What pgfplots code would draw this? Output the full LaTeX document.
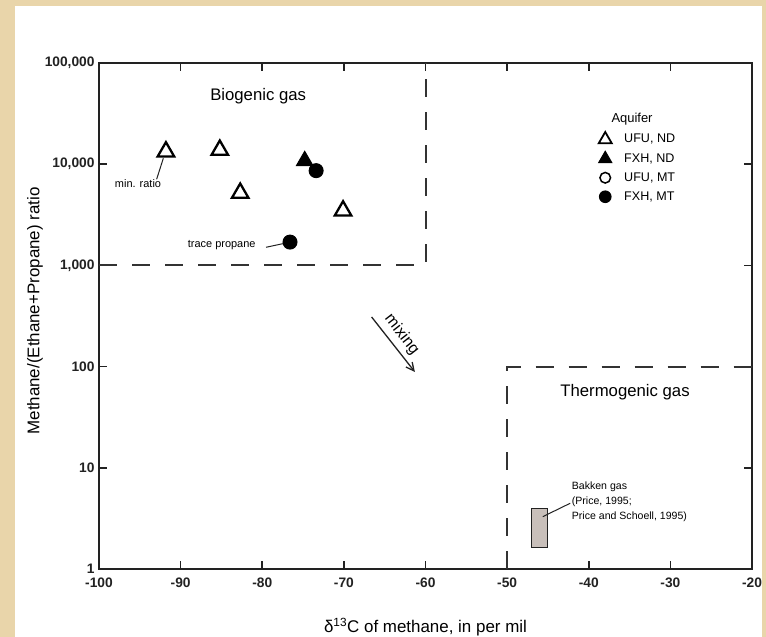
\documentclass[border=0pt]{standalone}
\usepackage{fontspec}
\setmainfont{Liberation Sans}
\usepackage{pgfplots}
\usepackage{pgfplotstable}
\pgfplotsset{compat=1.18}
\usetikzlibrary{arrows.meta}
\definecolor{bgbeige}{HTML}{E9D5AA}
\definecolor{axcol}{HTML}{222222}
\definecolor{dashcol}{HTML}{333333}
\definecolor{bakken}{HTML}{C8BFBA}

\pgfplotstableread{
x y
-91.8 13300
-85.2 13800
-82.7 5190
-70.1 3470
}\ufund
\pgfplotstableread{
x y
-74.8 10800
}\fxhnd
\pgfplotstableread{
x y
-73.4 8630
-76.6 1700
}\fxhmt

\begin{document}
\begin{tikzpicture}[x=1bp,y=1bp]
\useasboundingbox (0,0) rectangle (766,637);
\fill[bgbeige] (0,0) rectangle (766,637);
\fill[white] (15,0) rectangle (762,631);
\begin{axis}[
  at={(99bp,68bp)}, anchor=south west,
  scale only axis, width=653bp, height=506bp,
  ymode=log, xmin=-100, xmax=-20, ymin=1, ymax=100000,
  xtick={-100,-90,-80,-70,-60,-50,-40,-30,-20},
  xticklabels={-100,-90,-80,-70,-60,-50,-40,-30,-20},
  ytick={1,10,100,1000,10000,100000},
  yticklabels={1,10,100,{1,000},{10,000},{100,000}},
  yminorticks=false,
  tick align=inside, major tick length=8bp,
  axis line style={line width=2bp, axcol},
  every tick/.style={line width=1.6bp, axcol},
  ticklabel style={font=\fontsize{13.8}{16}\selectfont\bfseries, text=axcol},
  xticklabel style={yshift=-5bp},
  yticklabel style={xshift=-1bp},
  xlabel={δ\textsuperscript{13}C of methane, in per mil},
  ylabel={Methane/(Ethane+Propane) ratio},
  xlabel style={at={(axis description cs:0.5,-0.1146)}, anchor=center, font=\fontsize{17}{20}\selectfont},
  ylabel style={at={(axis description cs:-0.098,0.51)}, anchor=center, font=\fontsize{17}{20}\selectfont},
  legend style={at={(axis description cs:0.765,0.864)}, anchor=north west, draw=none, fill=none,
    font=\fontsize{12.6}{14}\selectfont, row sep=4.5bp, column sep=11bp, inner sep=0bp,
    nodes={inner sep=1.5bp, text height=9bp, text depth=2.5bp}},
  legend cell align=left,
  legend image code/.code={\draw[#1] plot coordinates {(0bp,0bp)};},
  clip=false,
]
% dashed field boxes
\addplot[dashcol, line width=2bp, dash pattern=on 18bp off 15bp, forget plot] coordinates {(-100,1000) (-60,1000) (-60,100000)};
\addplot[dashcol, line width=2bp, dash pattern=on 18bp off 15bp, forget plot] coordinates {(-50,1) (-50,100) (-20,100)};
% Bakken gas range
\addplot[fill=bakken, draw=axcol, line width=1bp, forget plot] coordinates {(-47,1.62) (-45,1.62) (-45,3.92) (-47,3.92)} -- cycle;
% data
\addplot[only marks, mark=triangle, mark size=9.5bp, mark options={draw=black, fill=white, line width=2.3bp}, forget plot] table[x=x,y=y] {\ufund};
\addplot[only marks, mark=triangle*, mark size=9.5bp, mark options={draw=black, fill=black, line width=1bp}, forget plot] table[x=x,y=y] {\fxhnd};
\addplot[only marks, mark=*, mark size=7bp, mark options={draw=black, fill=black, line width=1bp}, forget plot] table[x=x,y=y] {\fxhmt};
% legend
\addlegendimage{only marks, mark=triangle, mark size=7.5bp, mark options={draw=black, fill=white, line width=1.8bp}}
\addlegendentry{UFU, ND}
\addlegendimage{only marks, mark=triangle*, mark size=7.5bp, mark options={draw=black, fill=black, line width=1bp}}
\addlegendentry{FXH, ND}
\addlegendimage{only marks, mark=o, mark size=5.3bp, mark options={draw=black, fill=white, line width=1.5bp}}
\addlegendentry{UFU, MT}
\addlegendimage{only marks, mark=*, mark size=5.8bp, mark options={draw=black, fill=black, line width=1bp}}
\addlegendentry{FXH, MT}
% annotations
\node[font=\fontsize{13}{15}\selectfont] at (axis cs:-34.7,27990) {Aquifer};
\node[font=\fontsize{16.8}{20}\selectfont] at (axis cs:-80.5,47200) {Biogenic gas};
\node[font=\fontsize{16.8}{20}\selectfont] at (axis cs:-35.56,56.1) {Thermogenic gas};
\node[font=\fontsize{11}{13}\selectfont] at (axis cs:-95.22,6370) {min. ratio};
\draw[line width=1bp, axcol] (axis cs:-92.94,7100) -- (axis cs:-92.12,11430);
\node[font=\fontsize{11}{13}\selectfont] at (axis cs:-84.97,1580) {trace propane};
\draw[line width=1bp, axcol] (axis cs:-79.54,1510) -- (axis cs:-77.49,1638);
\draw[line width=1.3bp, axcol, -{Straight Barb[length=8bp,width=8bp]}] (axis cs:-66.6,309) -- (axis cs:-61.3,88.5);
\node[rotate=-52, inner sep=0bp, xshift=3bp, yshift=2bp, font=\fontsize{16}{18}\selectfont] at (axis cs:-63.33,213) {mixing};
\draw[line width=1bp, axcol] (axis cs:-45.63,3.29) -- (axis cs:-42.28,4.46);
\node[anchor=west, align=left, inner sep=0bp, font=\fontsize{10.6}{15}\selectfont] at (axis cs:-42.09,4.59) {Bakken gas\\(Price, 1995;\\Price and Schoell, 1995)};
\end{axis}
\end{tikzpicture}
\end{document}
